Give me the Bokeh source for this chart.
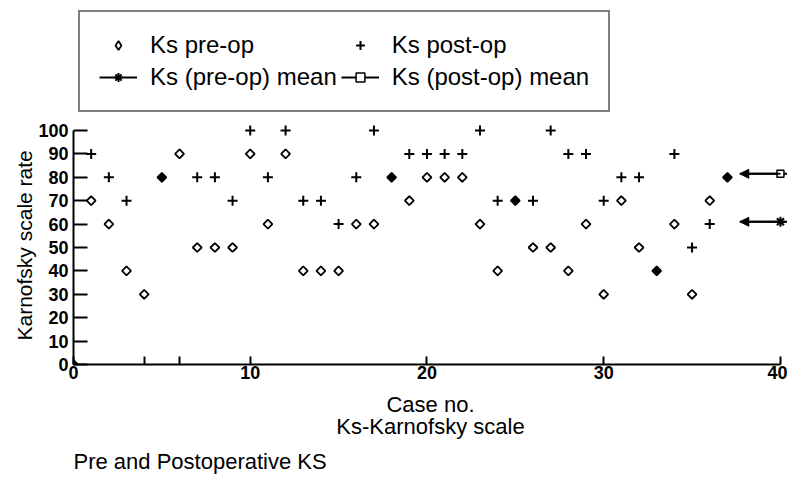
import math
from bokeh.plotting import figure
from bokeh.models import (Range1d, FixedTicker, Legend, LegendItem, Title,
                          Arrow, NormalHead)
from bokeh.embed import file_html
from bokeh.resources import INLINE

# ---------------- data ----------------
cases = list(range(0, 38))
pre_op = [0,
          70, 60, 40, 30, 80, 90, 50, 50, 50, 90,
          60, 90, 40, 40, 40, 60, 60, 80, 70, 80,
          80, 80, 60, 40, 70, 50, 50, 40, 60, 30,
          70, 50, 40, 60, 30, 70, 80]
post_op = [0,
           90, 80, 70, None, 80, None, 80, 80, 70, 100,
           80, 100, 70, 70, 60, 80, 100, 80, 90, 90,
           90, 90, 100, 70, 70, 70, 100, 90, 90, 70,
           80, 80, 40, 90, 50, 60, 80]
mean_x = 40
pre_mean = 61
post_mean = 81.5
arrow_tip_x = 37.7
arrow_tail_x = 40.4
x_ticks = [0, 4, 6, 10, 20, 30, 40]
y_ticks = [0, 10, 20, 30, 40, 50, 60, 70, 80, 90, 100]

# split into open / plus / filled (pre == post)
open_x = [c for c, a, b in zip(cases, pre_op, post_op) if a != b]
open_y = [a for c, a, b in zip(cases, pre_op, post_op) if a != b]
plus_x = [c for c, a, b in zip(cases, pre_op, post_op) if b is not None and a != b]
plus_y = [b for c, a, b in zip(cases, pre_op, post_op) if b is not None and a != b]
fill_x = [c for c, a, b in zip(cases, pre_op, post_op) if a == b]
fill_y = [a for c, a, b in zip(cases, pre_op, post_op) if a == b]

FONT = "Liberation Sans"

p = figure(width=787, height=477, output_backend="svg", toolbar_location=None,
           x_range=Range1d(0, 40.4), y_range=Range1d(0, 155.56),
           min_border_left=73, min_border_right=0, min_border_top=0,
           min_border_bottom=113, background_fill_color="white",
           border_fill_color="white")
p.outline_line_color = None
p.grid.visible = False

# axes
xa = p.xaxis[0]
ya = p.yaxis[0]
for ax in (xa, ya):
    ax.axis_line_width = 2
    ax.axis_line_color = "black"
    ax.major_tick_line_width = 2
    ax.major_tick_line_color = "black"
    ax.minor_tick_line_color = None
    ax.major_tick_out = 0
    ax.major_label_text_font = FONT
    ax.major_label_text_font_size = "18px"
    ax.major_label_text_font_style = "bold"
    ax.major_label_text_color = "black"
    ax.axis_label_text_font = FONT
    ax.axis_label_text_font_size = "22px"
    ax.axis_label_text_font_style = "normal"
    ax.axis_label_text_color = "black"
    ax.axis_label_text_line_height = 0.9

xa.ticker = FixedTicker(ticks=x_ticks)
xa.major_label_overrides = {4: "", 6: ""}
xa.bounds = (0, 40)
xa.major_tick_in = 8
xa.major_label_standoff = 1
xa.axis_label = "Case no.\nKs-Karnofsky scale"
xa.axis_label_standoff = 10

ya.ticker = FixedTicker(ticks=y_ticks)
ya.bounds = (0, 100)
ya.major_tick_in = 14
ya.major_label_standoff = 5

# y-axis title placed along the 0-100 part of the axis
p.add_layout(Title(text="Karnofsky scale rate", align="left", offset=24,
                   text_font=FONT, text_font_size="21px", text_font_style="normal",
                   text_color="black", standoff=0), "left")

# data marks
r_open = p.scatter(open_x, open_y, marker="square", angle=math.pi / 4, size=6.3,
                   fill_color="white", line_color="black", line_width=1.8)
r_plus = p.scatter(plus_x, plus_y, marker="cross", size=10,
                   line_color="black", line_width=2)
r_fill = p.scatter(fill_x, fill_y, marker="square", angle=math.pi / 4, size=6.3,
                   fill_color="black", line_color="black", line_width=1.8)
# legend key for the open diamond (hidden copy of the pre-op points)
r_open_key = p.scatter(open_x, open_y, marker="diamond", fill_color="white",
                       line_color="black", line_width=1.8, visible=False)

# mean lines with arrowheads
r_pre_line = p.line([arrow_tip_x, arrow_tail_x], [pre_mean, pre_mean],
                    line_color="black", line_width=2)
r_post_line = p.line([arrow_tip_x, arrow_tail_x], [post_mean, post_mean],
                     line_color="black", line_width=2)
for m in (pre_mean, post_mean):
    p.add_layout(Arrow(end=NormalHead(size=9, fill_color="black", line_color="black"),
                       x_start=mean_x, y_start=m, x_end=arrow_tip_x, y_end=m,
                       line_width=2, line_color="black"))
r_pre_mark = p.scatter([mean_x], [pre_mean], marker="asterisk", size=10,
                       line_color="black", line_width=2)
r_post_mark = p.scatter([mean_x], [post_mean], marker="square", size=7,
                        fill_color="white", line_color="black", line_width=1.5)

legend = Legend(items=[
    LegendItem(label="Ks pre-op", renderers=[r_open_key]),
    LegendItem(label="Ks (pre-op) mean", renderers=[r_pre_line, r_pre_mark]),
    LegendItem(label="Ks post-op", renderers=[r_plus]),
    LegendItem(label="Ks (post-op) mean", renderers=[r_post_line, r_post_mark]),
], ncols=2, location=(5, 252), label_text_font=FONT, label_text_font_size="24px",
    label_text_color="black", glyph_width=38, glyph_height=22, label_height=24,
    label_standoff=13, spacing=4, padding=19, margin=0, border_line_color="black",
    border_line_width=2, background_fill_color="white", background_fill_alpha=1,
    inactive_fill_alpha=0)
p.add_layout(legend, "center")

p.add_layout(Title(text="Pre and Postoperative KS", align="left", offset=0,
                   text_font=FONT, text_font_size="22px", text_font_style="normal",
                   text_color="black", standoff=8), "below")

open("out.html", "w").write(file_html(p, INLINE))
